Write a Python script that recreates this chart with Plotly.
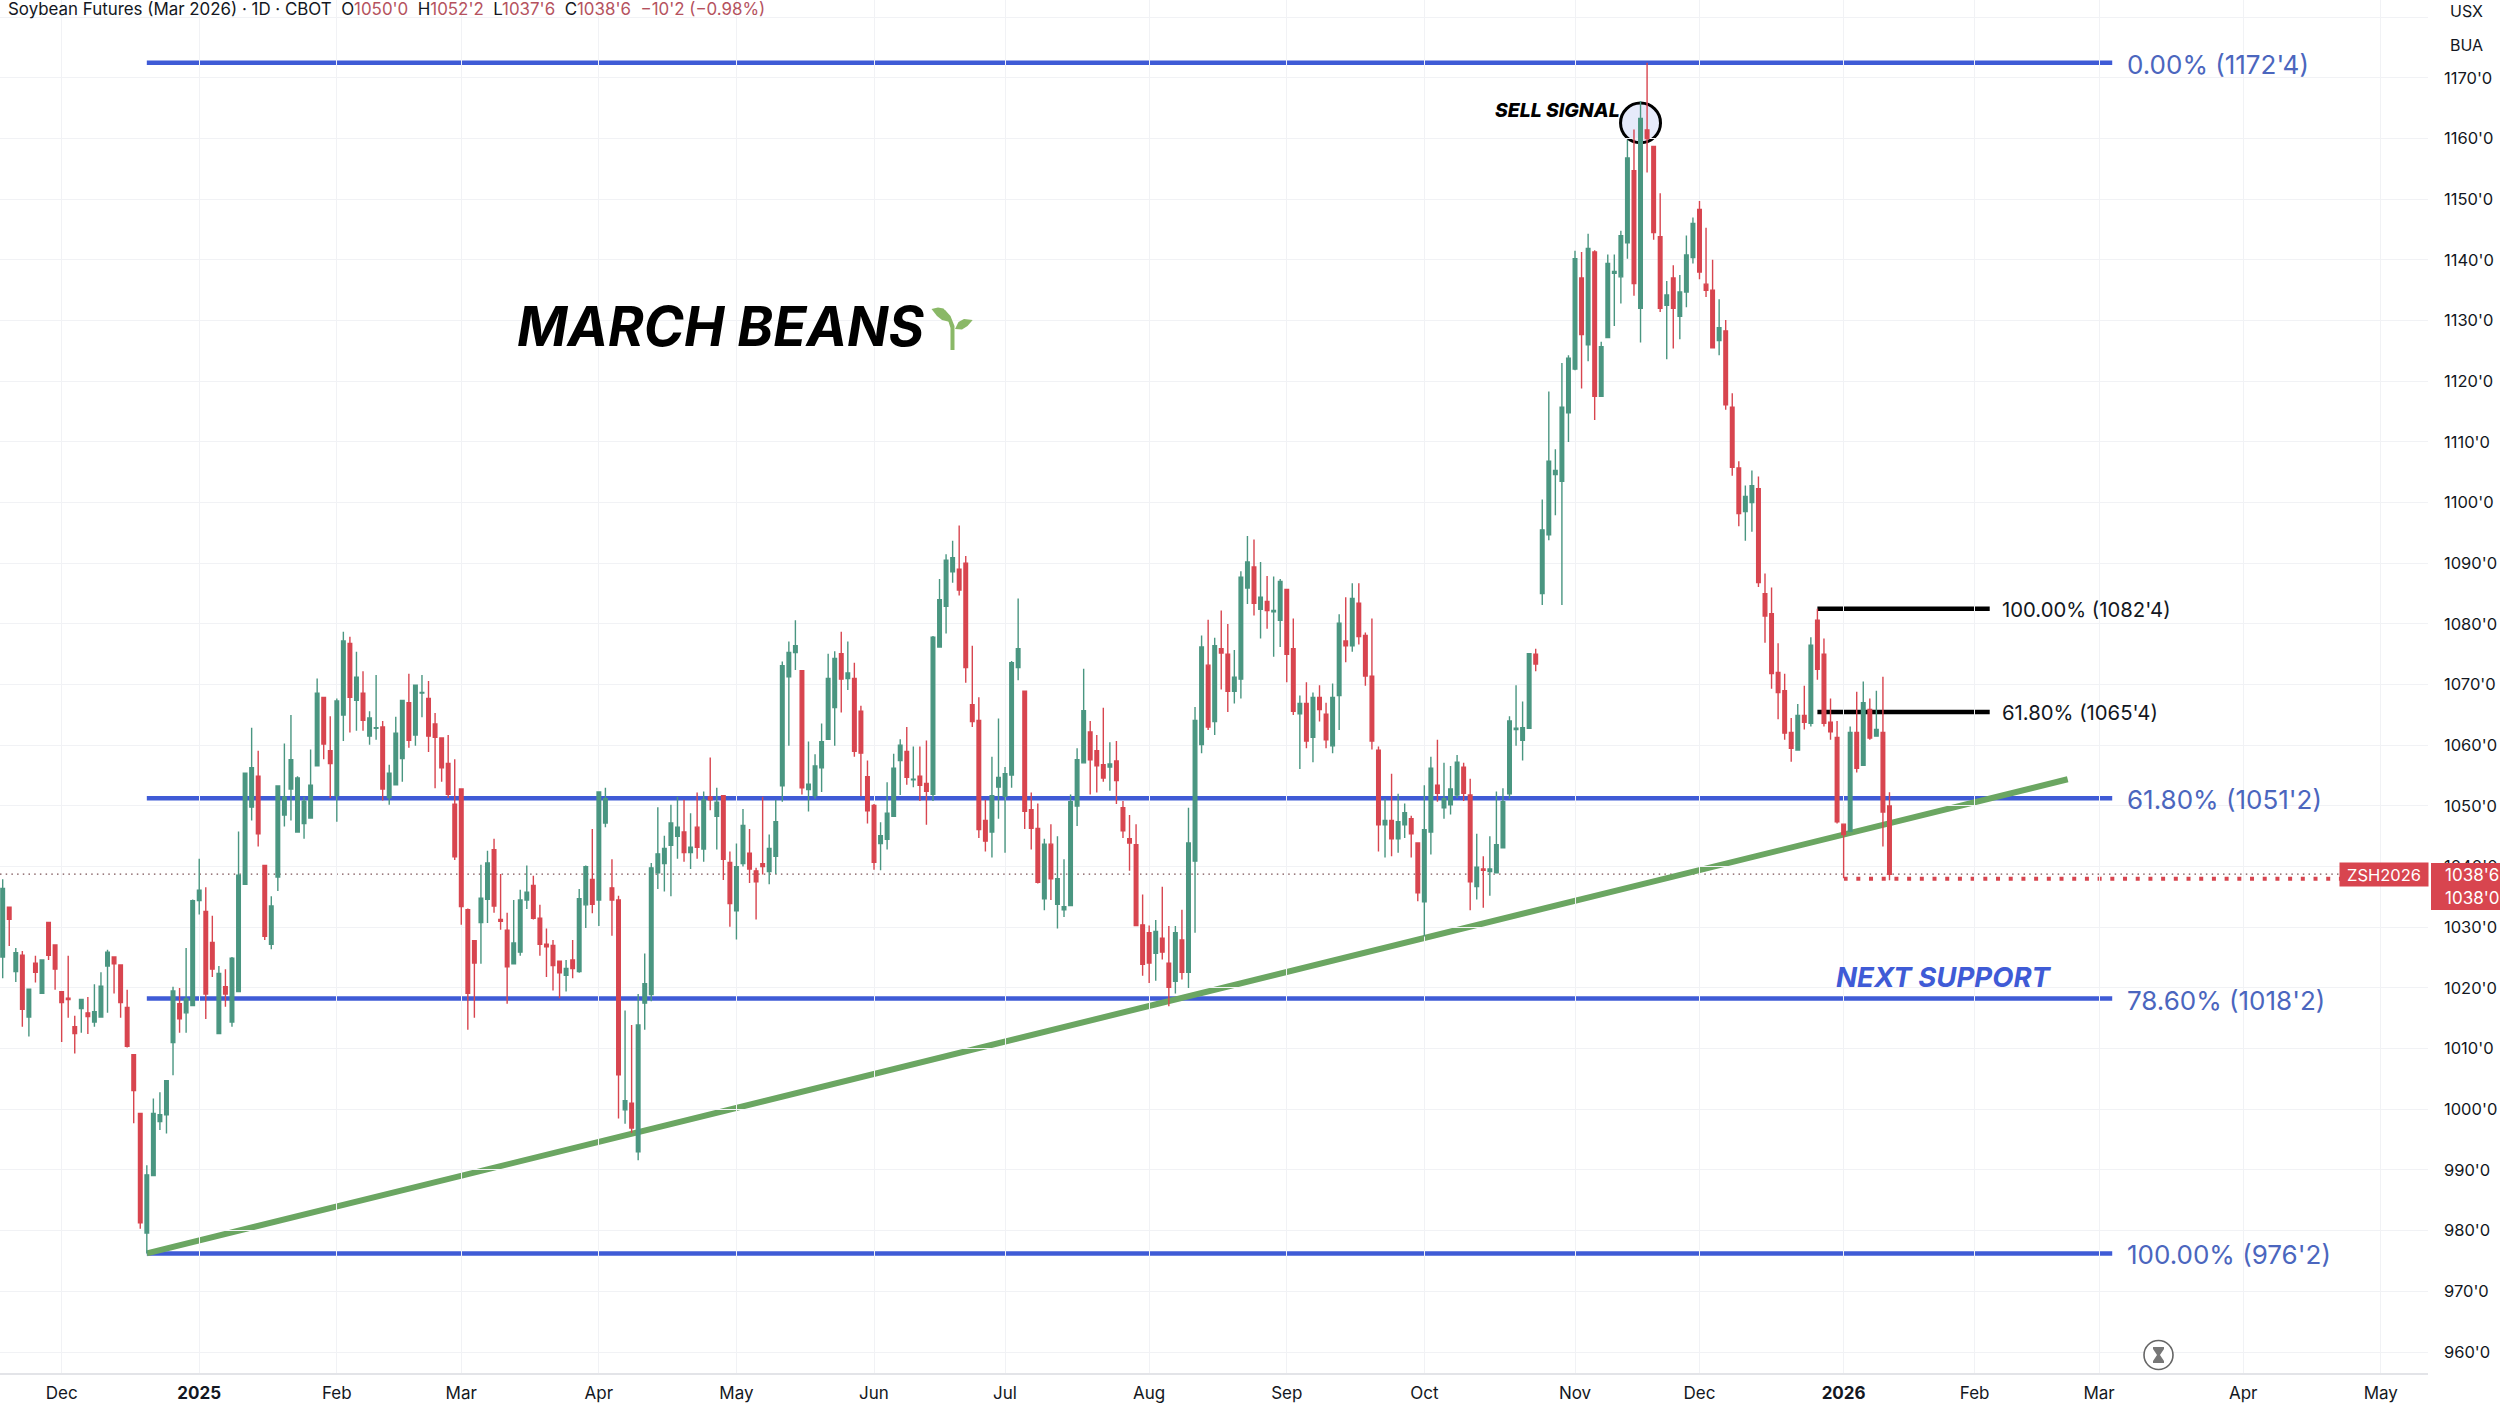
import plotly.graph_objects as go

# ---------- chart data (cents per bushel) ----------
direction = ("GRGRGRGRRR" "RRGRGGGRRR" "RRGGGGGRGG" "GRRGRGGGGR" "RGGGGGGGGR"
             "RGGRGRGGRG" "GGRGGRRRRR" "RRRGGRRRGG" "GRRRRRGRGG" "RGGRRGRGGG"
             "GGGGRGRGRG" "RRGGRRRGGG" "GGRGGGGGRG" "RRRRGGGGRG" "RRGGGGRRRR"
             "RGGGGGRRRG" "RGGGGGRRRG" "RRRRRRGRRG" "RGGGRGRRGG" "GRGRGGRRGR"
             "GRRGGRGRRR" "RGRGGRRGGR" "GGGRRGRGGG" "GGGGRGGGGG" "GRGRGGGGGR"
             "GRRRGRGGGR" "RRGRRRGGRR" "RRRRGRGRRR" "RRGRGRGRR")

high = [
1037.9,1033.4,1026.6,1026.1,1019.9,1025.3,1024.6,1030.8,1027.2,1019.5,
1025.3,1015.4,1018.1,1018.5,1020.6,1022.6,1026.3,1025.1,1023.9,1019.7,
1009.1,999.4,990.8,1001.8,1002.8,1004.7,1020.2,1020,1026.6,1034.6,
1041.3,1036.6,1031.9,1023.6,1023.1,1025.1,1045.8,1055.5,1062.9,1059.1,
1040.3,1035.1,1053.4,1060.3,1065,1054.9,1051.5,1059.3,1071,1068,
1064.8,1067.7,1078.7,1077.9,1075.4,1072.2,1065.6,1071.6,1064,1056.8,
1064.7,1067.4,1071.8,1069.9,1071.6,1070.6,1065.3,1061.3,1061.7,1057.7,
1052.9,1033.1,1027.9,1040.3,1042.6,1044.6,1038.8,1032.4,1034.5,1036.2,
1040.2,1038.5,1033.7,1029.8,1027.9,1024.5,1024.6,1027.9,1036.3,1040.2,
1046.2,1052.4,1053,1041.2,1035.2,1016.3,1013.9,1019,1025.7,1040.6,
1049.8,1045.1,1050.2,1051.5,1051,1048.8,1052.2,1052.4,1058,1053,
1051.8,1042.5,1043.8,1049.5,1046.2,1039.8,1051.5,1045.3,1051,1073.8,
1077.1,1080.6,1072.3,1060.6,1058.5,1063.6,1075.1,1075.5,1078.7,1077.1,
1073.6,1066.5,1057.5,1050.3,1047.3,1053.9,1058.6,1061,1063,1059.8,
1059.8,1060.8,1078,1087.4,1091.5,1093.7,1096.2,1091.2,1076.4,1067.9,
1051,1058.1,1064.4,1056.4,1073.9,1084.2,1068.9,1052.2,1050.4,1044.6,
1047,1045,1041.2,1051.9,1059.5,1072.6,1064,1061.7,1066.2,1060.5,
1060.7,1050.8,1048.5,1047,1035.4,1030.3,1031.2,1036.7,1030.2,1030.2,
1032.9,1049.7,1066.3,1078.1,1080.7,1077.7,1082.2,1080,1075.7,1088.7,
1094.5,1093.9,1090.2,1087.9,1087.8,1087.4,1085.7,1080.9,1068.2,1070.4,
1068.7,1069.9,1067,1070.2,1081.6,1084.4,1086.7,1086.7,1078.6,1080.9,
1059.8,1051.2,1055.3,1052,1050.4,1048.4,1043.9,1053.4,1058.1,1060.9,
1057.1,1056.6,1058.4,1057.1,1054.5,1045.4,1041.7,1045,1052.4,1052.9,
1064.8,1069.9,1067.2,1075.1,1075.9,1100.5,1118.3,1108.8,1123,1124.3,
1141.5,1141.3,1144.3,1141.6,1126.5,1140.9,1140.9,1144.8,1159.8,1161.5,
1166.2,1172.5,1158.8,1151,1136.5,1139.1,1137.5,1144,1147,1149.7,
1145.3,1140,1133.5,1130.1,1118,1106.8,1102.8,1105.3,1104.3,1088.3,
1086,1076.8,1071.8,1064.5,1066.8,1069.8,1077.8,1082.5,1077.6,1067.7,
1064,1047.1,1063.1,1068.8,1070.5,1067.7,1069,1071.3,1052.25]

body_top = [
1036.4,1033.3,1025.8,1025.4,1019.8,1024.1,1024.6,1030.8,1027.1,1019.4,
1018.3,1013.6,1018.1,1015.9,1016.1,1020.3,1025.9,1025.1,1023.8,1016.8,
1009,999.3,989.2,999.3,999.1,1004.7,1019.5,1017.4,1018.2,1034.4,
1036.1,1032.6,1027.5,1022.4,1020.2,1024.9,1038.6,1055.4,1056.3,1054.9,
1040.2,1033.5,1053.3,1051.5,1057.6,1054.6,1050.8,1053.4,1068.6,1067.9,
1059.1,1067.3,1077.2,1076.8,1071.2,1068.6,1064.5,1062.9,1063,1055.4,
1062,1067.4,1067,1069.9,1068.7,1067.7,1063.5,1061.2,1057,1050.3,
1052.8,1032.9,1027.8,1034.8,1040.6,1042.8,1031.3,1029.5,1027.4,1034.5,
1035.8,1036.9,1031.5,1027.2,1027,1024.4,1023.2,1024.6,1034.7,1040,
1037.9,1052.3,1051.2,1036.5,1034.5,1001.4,1001,1013.9,1020.7,1039.8,
1042.1,1043,1047.2,1046.5,1045.7,1043.2,1046.5,1051,1051.5,1050.6,
1051.7,1040.7,1040,1046.8,1042.2,1039.3,1040.5,1043,1047.4,1073.1,
1075.3,1076.4,1072.3,1053.6,1056.6,1060.6,1071,1074.3,1075.1,1071.9,
1071,1065.6,1054.8,1050.1,1045.1,1048.8,1056.2,1060,1059,1054.4,
1054.9,1053.7,1077.8,1084,1090.5,1090.9,1089,1090,1066.7,1064.1,
1047.6,1051.7,1054.7,1055.3,1073.6,1075.9,1068.9,1049.4,1046.3,1043.7,
1043.7,1038,1033.4,1050.7,1057.6,1065.7,1062.2,1059.1,1056.8,1056.9,
1057.4,1049.7,1044.6,1043.6,1030.4,1029.1,1029.3,1028.2,1024.1,1029.1,
1027.9,1043.9,1064.1,1076.2,1073.2,1076.4,1075.9,1075,1071.2,1087.7,
1090.2,1089.4,1084.4,1083.7,1082.2,1087,1085.7,1075.9,1066.9,1066.9,
1067.9,1067.9,1065.1,1067.9,1080.1,1077.2,1084.2,1083.4,1078.1,1071.4,
1059.2,1047.6,1047.6,1047.4,1048.9,1047.9,1043.9,1046.1,1056.2,1053.4,
1051.2,1052.8,1057.2,1056.4,1051.8,1039.9,1039.6,1039.6,1043.6,1050.7,
1064,1062.8,1062.9,1075.1,1075,1095.5,1106.8,1105.3,1115.7,1123.8,
1140.2,1137,1141.9,1141.3,1125.7,1139.4,1138.1,1144,1156.8,1154.7,
1163.3,1161.4,1158.7,1143.8,1134.2,1137,1134.7,1140.8,1146,1148.3,
1136,1135,1128.8,1128.3,1115.7,1105.7,1101,1102.8,1102.3,1085,
1081.7,1072,1069,1062.1,1064.9,1064.9,1076.5,1080.6,1075,1063.8,
1061.3,1047,1062.1,1062.1,1067,1065.9,1062.6,1062.1,1050]

body_bottom = [
1025.1,1031.3,1022.7,1016.5,1015.2,1022.6,1019.1,1025.4,1023.1,1017.6,
1018.1,1012.5,1016.6,1015.3,1014.4,1015.2,1023.6,1024,1017.6,1010.4,
1003.1,981.3,979.6,989.1,998,999.1,1011,1014.9,1015.9,1017.1,
1034.4,1019,1023.1,1012.5,1019,1014.4,1019.4,1037.1,1049.8,1045.4,
1028.5,1027.2,1038.3,1048.5,1052.8,1045.7,1047.1,1048,1056.6,1060.2,
1057,1051.7,1065,1067.9,1067.4,1064.1,1061.5,1062.8,1052.8,1051.4,
1053.5,1057.8,1060.8,1061.7,1068.6,1061.5,1061.3,1056.3,1051.9,1041.6,
1033.4,1019.1,1024.1,1030.8,1034.6,1033.5,1031,1023.5,1024,1025.9,
1034.5,1031.5,1027.2,1026.8,1023.7,1022.5,1022.1,1023.2,1022.7,1033.7,
1033.8,1034.5,1047.2,1034.5,1005.7,999.9,996.9,993,1017.5,1018.9,
1039,1040.5,1043.5,1045,1042.3,1042.3,1043.2,1042.9,1051,1048.3,
1041.2,1033.9,1032.7,1040.5,1039.6,1037.5,1040,1039.2,1041.7,1053.3,
1071.3,1075.3,1053,1052.7,1051.7,1056.3,1061,1066.2,1070.9,1071,
1059,1058.7,1049.2,1040.7,1043.8,1044.5,1048.3,1057.5,1054.7,1054.3,
1053.4,1052.4,1051.9,1076.2,1082.9,1088.6,1085.6,1072.8,1063.9,1046.1,
1044.2,1045.7,1053.1,1051.6,1055.1,1072.8,1049.1,1046.3,1037.4,1034.7,
1038,1033.8,1032.9,1033.6,1050,1057.1,1057.6,1056.6,1054.6,1056.4,
1054.2,1045.9,1043.9,1030.3,1023.9,1024.1,1025.7,1025.9,1020.1,1021.1,
1022.6,1022.6,1040.9,1060.1,1063,1063.9,1075.2,1068.9,1068.9,1070.9,
1085.9,1083.4,1082.4,1082.2,1082,1080.6,1075,1065.6,1065.2,1060.7,
1061.3,1065.9,1060.9,1059.9,1068.2,1076.4,1076.4,1077.9,1071.4,1060.7,
1046.9,1046.9,1044.6,1044.6,1046.9,1045.4,1035.7,1034.2,1045.7,1052.1,
1049.7,1050.2,1051.8,1052.1,1037.5,1036.7,1039.4,1039.2,1039,1043.1,
1052,1062.6,1060.8,1062.8,1073.4,1085,1094.7,1104.6,1103.5,1114.8,
1122,1127.7,1126,1117.5,1117.5,1127.2,1137.8,1137.2,1142.8,1136.1,
1132,1160,1144.5,1132,1132.5,1132,1130.7,1134.7,1140.4,1138,
1135,1125.5,1126.7,1116.1,1105.8,1098.2,1098.5,1100,1086.8,1081.3,
1071.8,1068.7,1062,1059.5,1059.2,1063.8,1063.6,1072.5,1063.6,1062.2,
1047.4,1045.3,1045.8,1056.2,1056.7,1061.2,1061.5,1049,1038.75]

low = [
1021.6,1026.9,1021,1013.6,1012,1020.9,1019,1024.6,1019.7,1011.1,
1015.1,1009.2,1012.6,1012.4,1013.6,1015.1,1015.9,1019.1,1015.1,1010.2,
997.7,980.3,976.25,989.1,996.6,996,1005.6,1012.6,1012.6,1017,
1032.1,1014.9,1021.8,1012.4,1016.9,1013.6,1019.3,1037,1047.6,1043.3,
1027.9,1026.4,1036,1046.6,1047.6,1045.6,1044.6,1047.9,1056.5,1057.7,
1051.3,1047.4,1060.7,1062.1,1062.4,1062.4,1060.1,1060.9,1050.9,1050.2,
1053.4,1054,1059.6,1059.9,1064.6,1058.9,1052.9,1054,1051.3,1041.1,
1030.4,1013.1,1015.1,1024,1030.7,1032.4,1029.6,1017.4,1023.9,1025.3,
1033,1031.3,1025.3,1021.8,1019.6,1018.3,1019.4,1021.6,1022.5,1029.9,
1032.3,1030.2,1046.5,1028.6,998.5,997.6,996.1,991.6,1013.1,1017.8,
1036.3,1035.9,1035.1,1041.3,1040.8,1039.6,1041.3,1040.8,1049.3,1042.8,
1037.8,1030.1,1028,1040,1037.3,1031.3,1038.7,1037.1,1038.8,1050.7,
1059.9,1072.4,1051.9,1049.1,1051.2,1052.3,1061,1059.9,1065.4,1069.1,
1058.1,1051.6,1047.1,1039.5,1039.4,1042.8,1048.2,1051.8,1053.5,1053.1,
1050.8,1046.9,1050.8,1076.1,1078.4,1086.8,1084.7,1070.3,1063,1044.7,
1042.5,1041.5,1047.9,1042.3,1053,1070.7,1046.2,1042.8,1037.2,1032.8,
1034.5,1029.8,1031.7,1033.6,1046.7,1057,1051.9,1052.2,1054,1052.5,
1050.3,1044.7,1039.3,1030.2,1022,1020.8,1021.2,1024.7,1017,1019.1,
1021.4,1020,1029.1,1058.7,1062.5,1061.7,1069.2,1065.5,1066.9,1067.7,
1083.3,1081.4,1077.6,1079.2,1074.6,1076.2,1070.4,1065,1056.1,1059.5,
1057.2,1063.9,1059.5,1058.7,1062.5,1073.7,1075.4,1076.6,1069.8,1059.3,
1042.5,1041.5,1041.7,1042.3,1044.7,1041.5,1034.3,1028.5,1042,1050.7,
1047.9,1048.6,1051.3,1050.8,1032.8,1034.6,1033.2,1035.2,1039,1043,
1051.2,1059.9,1057.5,1062.8,1072.2,1083.1,1093.8,1097.9,1083.1,1110,
1121.8,1118.8,1123.3,1113.6,1117.5,1127.2,1129.1,1132.8,1140.2,1134.1,
1126.4,1154.4,1143.3,1131.4,1123.6,1125.4,1126.9,1132.2,1139.4,1136.8,
1133.9,1125.4,1124.3,1115.3,1104.4,1096.1,1093.7,1095.2,1086.1,1076.9,
1069.3,1064.3,1060.9,1057.3,1059.2,1062.6,1063.1,1070.8,1063.1,1060.9,
1047.1,1038.1,1045.8,1055.5,1056.6,1060.9,1061.4,1043.3,1037.75]

assert len(direction) == len(high) == len(body_top) == len(body_bottom) == len(low) == 289

month_bars = [9, 30, 51, 70, 91, 112, 133, 153, 175, 196, 217, 240, 259, 281, 301, 320, 342, 363]
month_labels = ["Dec", "<b>2025</b>", "Feb", "Mar", "Apr", "May", "Jun", "Jul", "Aug", "Sep",
                "Oct", "Nov", "Dec", "<b>2026</b>", "Feb", "Mar", "Apr", "May"]
price_ticks = list(range(960, 1190, 10))
price_labels = [f"{p}'0" for p in price_ticks[:-1]] + [""]

fib_levels = [1172.5, 1051.25, 1018.25, 976.25]
fib_labels = ["0.00% (1172'4)", "61.80% (1051'2)", "78.60% (1018'2)", "100.00% (976'2)"]
fib_bars = [22, 322]
retrace_levels = [1082.5, 1065.5]
retrace_labels = ["100.00% (1082'4)", "61.80% (1065'4)"]
retrace_bars = [277, 303.3]
trend_bars = [22, 315.2]
trend_prices = [976.25, 1054.4]
last_close = 1038.75
last_low_level = 1038.0
low_line_bars = [281, 369.5]

GREEN, RED = "#4A9681", "#D8454F"
BLUE, FIBTXT = "#3F5BD6", "#4B66BE"
INK = "#131722"
FONT = "Inter"

# ---------- frame ----------
W, H = 2500, 1409
PLOT_R, PLOT_B = 2428, 1373
def px(x): return x / PLOT_R
def py(y): return 1 - y / PLOT_B

up = [d == "G" for d in direction]
open_ = [b if u else t for u, t, b in zip(up, body_top, body_bottom)]
close = [t if u else b for u, t, b in zip(up, body_top, body_bottom)]
bars = list(range(len(high)))

fig = go.Figure(go.Candlestick(
    x=bars, open=open_, high=high, low=low, close=close,
    increasing=dict(line=dict(color=GREEN, width=1.4), fillcolor=GREEN),
    decreasing=dict(line=dict(color=RED, width=1.4), fillcolor=RED),
    whiskerwidth=0, hoverinfo="skip", showlegend=False))

shapes = []
# white band behind the header
shapes.append(dict(type="rect", xref="paper", yref="paper", x0=0, x1=1, y0=py(17), y1=1,
                   fillcolor="white", line_width=0, layer="below"))
for lv in fib_levels:
    shapes.append(dict(type="line", x0=fib_bars[0], x1=fib_bars[1], y0=lv, y1=lv,
                       line=dict(color=BLUE, width=4.5), layer="below"))
for lv in retrace_levels:
    shapes.append(dict(type="line", x0=retrace_bars[0], x1=retrace_bars[1], y0=lv, y1=lv,
                       line=dict(color="#000000", width=4.5), layer="below"))
shapes.append(dict(type="line", x0=trend_bars[0], x1=trend_bars[1], y0=trend_prices[0], y1=trend_prices[1],
                   line=dict(color="#6BA662", width=6), layer="below"))
shapes.append(dict(type="line", xref="paper", x0=0, x1=1, y0=last_close, y1=last_close,
                   line=dict(color="#7A5054", width=1.2, dash="1.5px,4.2px"), layer="below"))
shapes.append(dict(type="line", x0=low_line_bars[0], x1=low_line_bars[1], y0=last_low_level, y1=last_low_level,
                   line=dict(color=RED, width=4, dash="4px,8.7px"), layer="below"))
# sell-signal circle
shapes.append(dict(type="circle", x0=246.95, x1=253.05, y0=1159.3, y1=1165.85,
                   line=dict(color="#000000", width=3), fillcolor="rgba(63,91,214,0.13)", layer="below"))
# price boxes on the axis
shapes.append(dict(type="rect", xref="paper", yref="paper", x0=px(2431), x1=px(2500), y0=py(910), y1=py(863),
                   fillcolor=RED, line_width=0, layer="above"))
# seedling
def P(pts, close_path=True):
    s = "M" + " L".join(f"{px(a):.5f},{py(b):.5f}" for a, b in pts)
    return s + (" Z" if close_path else "")
LEAF = "#8AB867"
shapes.append(dict(type="path", xref="paper", yref="paper",
                   path=P([(950.5, 350), (950.5, 328), (948, 320), (943, 314), (945, 310), (950.5, 316), (954.5, 326), (954.5, 350)]),
                   fillcolor=LEAF, line_width=0))
shapes.append(dict(type="path", xref="paper", yref="paper",
                   path=P([(931.5, 309), (938, 307.5), (943.5, 308.5), (948, 314), (950, 322), (942, 320), (937, 316)]),
                   fillcolor=LEAF, line_width=0))
shapes.append(dict(type="path", xref="paper", yref="paper",
                   path=P([(972.7, 320), (964, 319), (958.5, 322), (955, 329), (962, 329.5), (967.5, 326)]),
                   fillcolor=LEAF, line_width=0))
# hourglass badge
shapes.append(dict(type="circle", xref="paper", yref="paper", x0=px(2144), x1=px(2173), y0=py(1369.5), y1=py(1340.5),
                   line=dict(color="#666666", width=1.6), fillcolor="white"))
shapes.append(dict(type="path", xref="paper", yref="paper",
                   path=P([(2153, 1347), (2164, 1347), (2164, 1349), (2160, 1355), (2164, 1361), (2164, 1363),
                           (2153, 1363), (2153, 1361), (2157, 1355), (2153, 1349)]),
                   fillcolor="#777777", line_width=0))

ann = []
def label(x, y, text, size, color=INK, anchor="left", weight=400, style="normal"):
    ann.append(dict(xref="paper", yref="paper", x=px(x), y=py(y), text=text, showarrow=False,
                    xanchor=anchor, yanchor="middle", align=anchor,
                    font=dict(family=FONT, size=size, color=color, weight=weight, style=style)))

HEAD = "#B5525E"
label(6, 9.5, "Soybean Futures (Mar 2026) · 1D · CBOT  "
      f"O<span style='color:{HEAD}'>1050'0</span>  H<span style='color:{HEAD}'>1052'2</span>  "
      f"L<span style='color:{HEAD}'>1037'6</span>  C<span style='color:{HEAD}'>1038'6</span>  "
      f"<span style='color:{HEAD}'>−10'2 (−0.98%)</span>", 16.9)
label(2448, 11, "USX", 16)
label(2448, 45, "BUA", 16)
label(515, 326, "MARCH BEANS", 54.3, "#000000", weight=700, style="italic")
label(1493, 110, "SELL SIGNAL", 19.4, "#000000", weight=800, style="italic")
label(1834, 977, "NEXT SUPPORT", 27.6, BLUE, weight=700, style="italic")

for lv, t in zip(fib_levels, fib_labels):
    ann.append(dict(x=324.0, y=lv, yshift=-1.5, text=t, showarrow=False, xanchor="left", yanchor="middle",
                    font=dict(family=FONT, size=26, color=FIBTXT)))
for lv, t in zip(retrace_levels, retrace_labels):
    ann.append(dict(x=304.8, y=lv, yshift=-1, text=t, showarrow=False, xanchor="left", yanchor="middle",
                    font=dict(family=FONT, size=20.3, color=INK)))

ann.append(dict(xref="paper", yref="paper", x=px(2429), y=py(874.5), xanchor="right", yanchor="middle",
                text="ZSH2026", showarrow=False, bgcolor=RED, width=88, height=23, borderpad=0, align="center",
                font=dict(family=FONT, size=16.5, color="white")))
label(2443, 874.5, "1038'6", 17, "white")
label(2443, 898, "1038'0", 17, "white")

fig.update_layout(
    width=W, height=H, paper_bgcolor="white", plot_bgcolor="white",
    margin=dict(l=0, r=W - PLOT_R, t=0, b=H - PLOT_B),
    boxgap=0.22, showlegend=False, dragmode=False,
    font=dict(family=FONT, color=INK),
    shapes=shapes, annotations=ann,
    xaxis=dict(range=[-0.41, 370.2], tickmode="array", tickvals=month_bars, ticktext=month_labels,
               showgrid=True, gridcolor="#F1F2F5", gridwidth=1, zeroline=False,
               showline=True, linecolor="#E3E4E8", linewidth=1.5, rangeslider=dict(visible=False),
               ticks="", tickfont=dict(family=FONT, size=17, color=INK), ticklabelstandoff=4),
    yaxis=dict(range=[956.54, 1182.83], side="right", tickmode="array", tickvals=price_ticks,
               ticktext=price_labels, showgrid=True, gridcolor="#F1F2F5", gridwidth=1, zeroline=False,
               showline=False, ticks="", tickfont=dict(family=FONT, size=16.5, color=INK),
               ticklabelstandoff=15),
)

fig.write_html("out.html", config=dict(displayModeBar=False),
               post_script="document.body.style.margin='0';document.body.style.overflow='hidden';")
